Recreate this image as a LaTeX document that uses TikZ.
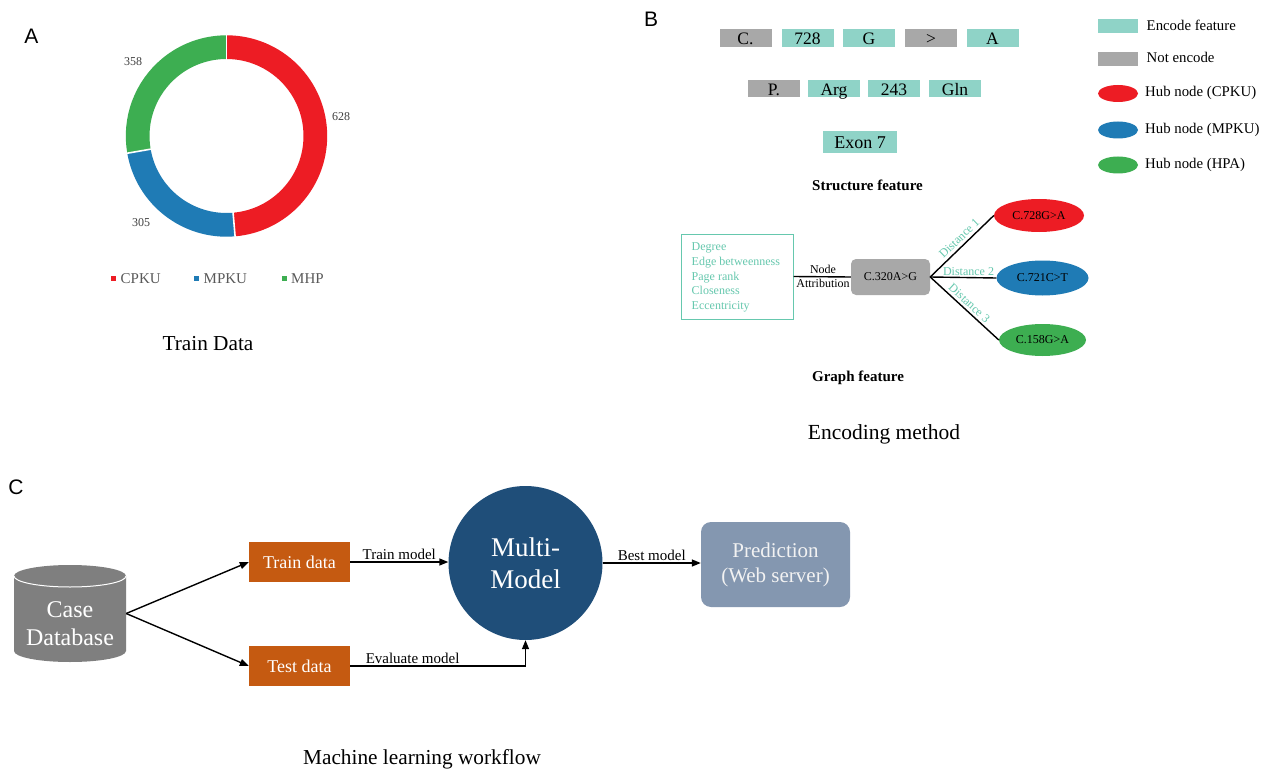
\documentclass[tikz,border=0pt]{standalone}
\usepackage{fontspec}
\setmainfont{Liberation Serif}
\newfontfamily\arialf{Liberation Sans}
\usetikzlibrary{arrows.meta,shapes.geometric,calc}
\newcommand{\fsz}[2]{\fontsize{#1}{#2}\selectfont}
\definecolor{cpku}{HTML}{ED1C24}
\definecolor{mpku}{HTML}{1F7BB5}
\definecolor{mhp}{HTML}{3DAE51}
\definecolor{tealbox}{HTML}{8FD3C7}
\definecolor{graybox}{HTML}{A8A8A8}
\definecolor{tealtxt}{HTML}{66C8AE}
\definecolor{orng}{HTML}{C55A11}
\definecolor{navy}{HTML}{1F4E79}
\definecolor{slate}{HTML}{8497B0}
\definecolor{dbgray}{HTML}{7F7F7F}
\definecolor{lgray}{HTML}{595959}
\definecolor{ngray}{HTML}{404040}
\tikzset{
  panel/.style={font=\arialf\fsz{21}{25}},
  title/.style={font=\fsz{21.3}{25}},
  numlbl/.style={font=\fsz{12}{14}, text=ngray, inner sep=0pt},
  legtxt/.style={anchor=west, font=\fsz{15}{18}, text=lgray, inner sep=0pt},
  legsq/.style={minimum size=5pt, inner sep=0pt},
  seqbox/.style={minimum width=52pt, minimum height=17.7pt, inner sep=0pt, font=\fsz{17.5}{20}, text height=14pt, text depth=0pt},
  enc/.style={seqbox, fill=tealbox},
  nenc/.style={seqbox, fill=graybox},
  bhead/.style={font=\bfseries\fsz{15}{18}},
  bleg/.style={anchor=west, font=\fsz{14.8}{17}, inner sep=0pt},
  hub/.style={ellipse, inner sep=0pt, font=\fsz{12}{14}},
  dist/.style={font=\fsz{12}{14}, text=tealtxt, inner sep=1.5pt},
  conn/.style={line width=1.4pt, -{Triangle[length=9pt,width=7pt]}},
  edge/.style={line width=1.4pt},
  flbl/.style={font=\fsz{15}{18}, inner sep=2pt},
  obox/.style={fill=orng, minimum width=101pt, minimum height=40pt, inner sep=0pt, text=white, font=\fsz{18}{21}},
}
\begin{document}
\begin{tikzpicture}[x=1pt,y=1pt]
\useasboundingbox (0,0) rectangle (1263,-770);
\fill[white] (0,0) rectangle (1263,-770);

% ---------------- Panel A ----------------
\node[panel] (lA) at (31.5,-36) {A};
\coordinate (dc) at (226.5,-136);
\draw[line width=23.7pt, cpku] ($(dc)+(90:88.85pt)$) arc[start angle=90,end angle=-85.1,radius=88.85pt];
\draw[line width=23.7pt, mpku] ($(dc)+(-85.1:88.85pt)$) arc[start angle=-85.1,end angle=-170.15,radius=88.85pt];
\draw[line width=23.7pt, mhp] ($(dc)+(-170.15:88.85pt)$) arc[start angle=-170.15,end angle=-270,radius=88.85pt];
\foreach \a in {90,-85.1,-170.15}{
  \draw[white, line width=1.6pt] ($(dc)+(\a:75pt)$) -- ($(dc)+(\a:103pt)$);
}
\node[numlbl] (n628) at (341,-117) {628};
\node[numlbl] (n305) at (141,-223) {305};
\node[numlbl] (n358) at (133,-62) {358};
\node[legsq, fill=cpku] (sq1) at (113.5,-278.5) {};
\node[legtxt] (t1) at (120.5,-278.5) {CPKU};
\node[legsq, fill=mpku] (sq2) at (196.5,-278.5) {};
\node[legtxt] (t2) at (203.5,-278.5) {MPKU};
\node[legsq, fill=mhp] (sq3) at (284.5,-278.5) {};
\node[legtxt] (t3) at (291,-278.5) {MHP};
\node[title] (ttA) at (208,-344) {Train Data};

% ---------------- Panel B ----------------
\node[panel] (lB) at (651,-19) {B};
\node[nenc] (b1) at (745.5,-37.8) {C.};
\node[enc]  (b2) at (807.5,-37.8) {728};
\node[enc]  (b3) at (869,-37.8) {G};
\node[nenc] (b4) at (931,-37.8) {>};
\node[enc]  (b5) at (992.5,-37.8) {A};
\node[nenc] (p1) at (774,-88.5) {P.};
\node[enc]  (p2) at (834,-88.5) {Arg};
\node[enc]  (p3) at (894,-88.5) {243};
\node[enc]  (p4) at (955,-88.5) {Gln};
\node[enc, minimum width=74pt, minimum height=22pt, font=\fsz{18}{21}] (ex) at (860,-142) {Exon 7};
\node[bhead] (sf) at (867.5,-185) {Structure feature};

% legend
\node[fill=tealbox, minimum width=40pt, minimum height=14pt, inner sep=0pt] (lg1) at (1118,-26) {};
\node[bleg] (lgt1) at (1146.5,-25.5) {Encode feature};
\node[fill=graybox, minimum width=40pt, minimum height=14pt, inner sep=0pt] (lg2) at (1118,-59) {};
\node[bleg] (lgt2) at (1146.5,-57.5) {Not encode};
\node[ellipse, fill=cpku, minimum width=40pt, minimum height=17pt, inner sep=0pt] (lg3) at (1118,-93.5) {};
\node[bleg] (lgt3) at (1145,-93) {Hub node (CPKU)};
\node[ellipse, fill=mpku, minimum width=40pt, minimum height=17pt, inner sep=0pt] (lg4) at (1118,-130) {};
\node[bleg] (lgt4) at (1145,-129.5) {Hub node (MPKU)};
\node[ellipse, fill=mhp, minimum width=40pt, minimum height=17pt, inner sep=0pt] (lg5) at (1118,-165) {};
\node[bleg] (lgt5) at (1145,-165) {Hub node (HPA)};

% graph feature
\node[draw=tealtxt, line width=1pt, minimum width=112pt, minimum height=85pt, inner sep=0pt] (gbox) at (737,-276.5) {};
\node[anchor=west, align=left, font=\fsz{12}{14.7}, text=tealtxt, inner sep=0pt] (gtxt) at (691.5,-277.5)
  {Degree\\Edge betweenness\\Page rank\\Closeness\\Eccentricity};
\node[fill=graybox, rounded corners=5pt, minimum width=79pt, minimum height=36pt, inner sep=0pt, font=\fsz{12}{14}] (c320) at (890.5,-277) {C.320A>G};
\draw[edge] (gbox.east) -- (c320.west);
\node[font=\fsz{12}{14}, inner sep=0pt] (nd) at (823,-269) {Node};
\node[font=\fsz{12}{14}, inner sep=0pt] (at) at (823,-283.5) {Attribution};
\node[hub, fill=cpku, minimum width=90pt, minimum height=33pt] (e1) at (1039,-215.5) {C.728G>A};
\node[hub, fill=mpku, minimum width=92pt, minimum height=35pt] (e2) at (1042.5,-278) {C.721C>T};
\node[hub, fill=mhp, minimum width=87pt, minimum height=32pt] (e3) at (1042.5,-340) {C.158G>A};
\draw[edge] (c320.east) -- node[dist, sloped, above, pos=0.54, inner sep=3pt] {Distance 1} (e1.west);
\draw[edge] (c320.east) -- node[dist, above, pos=0.58] {Distance 2} (e2.west);
\draw[edge] (c320.east) -- node[dist, sloped, above, pos=0.5, inner sep=2.5pt] {Distance 3} (e3.west);
\node[bhead] (gf) at (858,-378) {Graph feature};
\node[title, font=\fsz{21.5}{25}] (ttB) at (884,-434) {Encoding method};

% ---------------- Panel C ----------------
\node[panel] (lC) at (16,-487) {C};
\node[minimum width=112pt, minimum height=97pt, inner sep=0pt] (db) at (70,-613.5) {};
\fill[dbgray] (14,-576) -- (14,-651) arc[start angle=180,end angle=360,x radius=56pt,y radius=11pt]
   -- (126,-576) arc[start angle=0,end angle=180,x radius=56pt,y radius=11pt] -- cycle;
\draw[white, line width=1pt] (14,-576) arc[start angle=180,end angle=360,x radius=56pt,y radius=11pt];
\node[align=center, text=white, font=\fsz{24}{28}, inner sep=0pt] (dbt) at (70,-624) {Case\\Database};

\node[obox] (train) at (299.5,-562) {Train data};
\node[obox] (test) at (299.5,-666) {Test data};
\draw[conn] (db.east) -- (train.west);
\draw[conn] (db.east) -- (test.west);

\node[circle, fill=navy, minimum size=154pt, inner sep=0pt, align=center, text=white, font=\fsz{27}{32}] (mm) at (525.5,-563) {Multi-\\Model};
\draw[conn] (train.east) -- node[flbl, above] {Train model} (train.east -| mm.west);
\draw[conn] (test.east) -| node[flbl, above, pos=0.178] {Evaluate model} (mm.south);

\node[fill=slate, rounded corners=10pt, minimum width=149pt, minimum height=85pt, inner sep=0pt, align=center, text=white!95!black, font=\fsz{21}{25}] (pred) at (775.5,-564.5) {Prediction\\(Web server)};
\draw[conn] (mm.east) -- node[flbl, above] {Best model} (mm.east -| pred.west);

\node[title] (ttC) at (422,-759) {Machine learning workflow};
\end{tikzpicture}
\end{document}
